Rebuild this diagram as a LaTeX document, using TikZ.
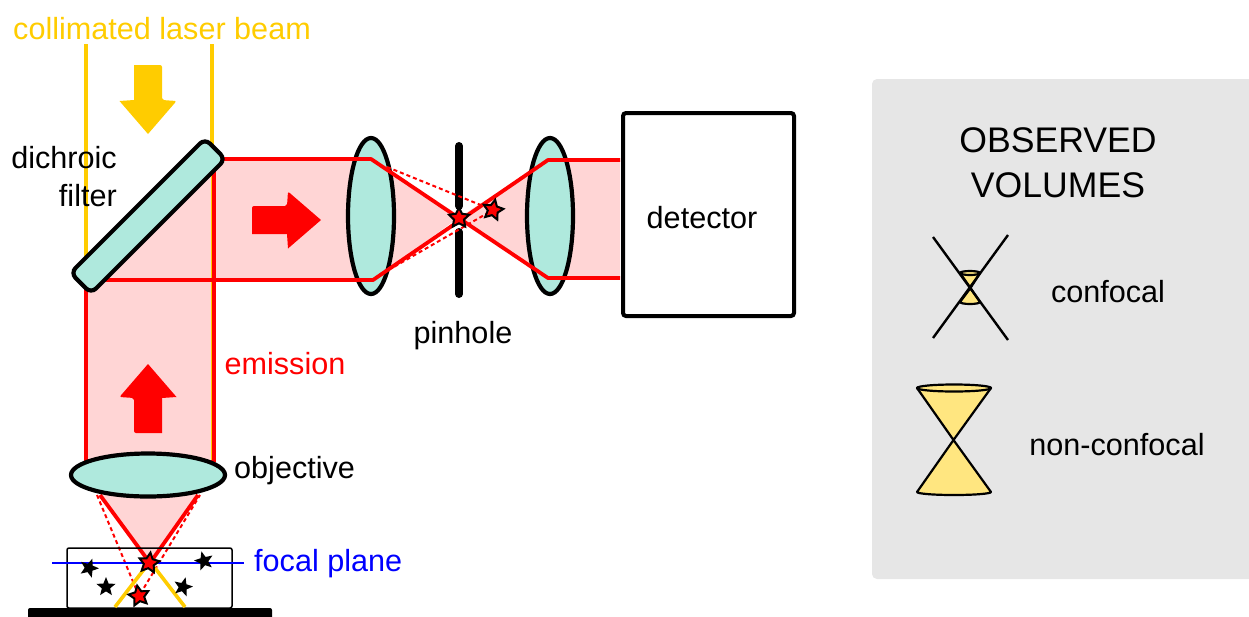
\documentclass[tikz,border=0pt]{standalone}
\usepackage{fontspec}
\setmainfont{Liberation Sans}
\usepackage{xcolor}
\usetikzlibrary{shapes.geometric}
\definecolor{beam}{HTML}{FFCC00}
\definecolor{wash}{HTML}{FFD5D5}
\definecolor{glass}{HTML}{AFE9DD}
\definecolor{panel}{HTML}{E6E6E6}
\definecolor{cone}{HTML}{FFE680}
\tikzset{
  glasspart/.style={fill=glass,draw=black,line width=4.2pt},
  emit/.style={draw=red,line width=3.8pt,line join=round},
  emitdash/.style={draw=red,line width=2pt,dash pattern=on 4pt off 3pt},
  laser/.style={draw=beam,line width=3.6pt},
  conepart/.style={fill=cone,draw=black,line width=2.2pt,line join=round},
  crossline/.style={draw=black,line width=2.4pt},
  label/.style={font=\fontsize{30.6}{34}\selectfont,inner sep=0pt},
  spot/.style={star,star points=5,star point ratio=2.3,minimum size=20pt,inner sep=0pt,fill=black,draw=none},
  redspot/.style={star,star points=5,star point ratio=2,minimum size=21pt,inner sep=0pt,fill=red,draw=black,line width=2pt},
  blockarrow/.pic={\fill[pic actions,rounded corners=2pt] (-14,-35)--(14,-35)--(14,0)--(28.5,1) [sharp corners]--(0,34)--(-28.5,1)--(-14,0)--cycle;}
}
\begin{document}
\begin{tikzpicture}[x=1pt,y=-1pt]
\useasboundingbox (0,0) rectangle (1249,616);
% pink light
\fill[wash] (86,290)--(212,160)--(371,160)--(458,218)--(548,160)--(620,160)--(620,278)--(548,278)--(458,218)--(373,280)--(212,280)--(212,460)--(86,460)--cycle;
\fill[wash] (100,492)--(198,492)--(150,563)--cycle;
% laser
\draw[laser] (86,44)--(86,258);
\draw[laser] (212,44)--(212,160);
\pic[beam] at (148,100) {blockarrow};
\node[label,text=beam,anchor=base west] (laserlabel) at (13,39) {collimated laser beam};
% optics under the rays
\draw[glasspart] (371,216) ellipse (23 and 78);
\draw[glasspart] (550,216) ellipse (23 and 78);
\draw[black,line width=8pt,line cap=round] (459,146)--(459,206) (459,232)--(459,294);
% emission
\draw[emit] (86,285)--(86,462);
\draw[emit,line width=5pt] (213,160)--(213,462);
\draw[laser,line width=1.6pt] (211.5,160)--(211.5,460);
\draw[emit] (105,280)--(373,280)--(548,160)--(620,160);
\draw[emit] (222,159)--(371,159)--(548,278)--(620,278);
\draw[emit] (100,495)--(150,563)--(198,495);
\draw[emitdash] (387,167)--(493,210)--(392,268);
\draw[emitdash] (97,495)--(139,596)--(200,495);
\pic[red,rotate=90] at (287,220) {blockarrow};
\pic[red,rotate=180] at (148,398) {blockarrow};
% optics over the rays
\node[glasspart,rectangle,rounded corners=7pt,rotate=45,minimum width=190pt,minimum height=29pt] (filter) at (148,216) {};
\draw[glasspart] (148,475) ellipse (77 and 21.5);
\draw[black,line width=4pt,rounded corners=3pt] (623,113) rectangle (794,316);
\node[label] (detector) at (702,218) {detector};
\node[label,anchor=base] (pinhole) at (463,343) {pinhole};
\node[label,text=red,anchor=base] (emission) at (285,374) {emission};
\node[label,anchor=base west] (objective) at (234,478) {objective};
\node[label,anchor=base east] (dichroic) at (117,168) {dichroic};
\node[label,anchor=base east] (filterlabel) at (117,206) {filter};
% sample
\fill[black,rounded corners=2pt] (28,608) rectangle (272,620);
\draw[black,line width=1.5pt,rounded corners=2pt] (67,548) rectangle (232,608);
\draw[laser] (145,568)--(115,607);
\draw[laser] (155,568)--(185,607);
\draw[blue,line width=2.4pt] (52,563)--(244,563);
\node[label,text=blue,anchor=base west] (focal) at (254,571) {focal plane};
\node[spot,rotate=-20] (s1) at (89,568) {};
\node[spot] (s2) at (106,587) {};
\node[spot,rotate=15] (s3) at (204,561) {};
\node[spot,rotate=-15] (s4) at (183,587) {};
\node[redspot,rotate=-8] (r1) at (149,563) {};
\node[redspot,rotate=10] (r2) at (139,596) {};
\node[redspot] (r3) at (459,218) {};
\node[redspot,rotate=-12] (r4) at (493,210) {};
% legend
\fill[panel,rounded corners=5pt] (872,79) rectangle (1260,579);
\node[font=\fontsize{35.6}{45}\selectfont,align=center,inner sep=0pt] (volumes) at (1058,163) {OBSERVED\\VOLUMES};
\node[label] (confocal) at (1108,292) {confocal};
\node[label] (nonconfocal) at (1117,445) {non-confocal};
\draw[conepart] (960,273)--(970.5,288)--(980,273)--cycle (960,302)--(970.5,288)--(980,302) arc (0:180:10 and 2)--cycle;
\draw[conepart] (970,273) ellipse (10 and 2);
\draw[crossline] (933,237)--(1008,340) (1008,235)--(933,338);
\draw[conepart] (917,388)--(953.5,440)--(991,388)--cycle;
\draw[conepart] (917,492)--(953.5,440)--(991,492) arc (0:180:37 and 3)--cycle;
\draw[conepart] (954,388) ellipse (37 and 3.5);
\end{tikzpicture}
\end{document}
